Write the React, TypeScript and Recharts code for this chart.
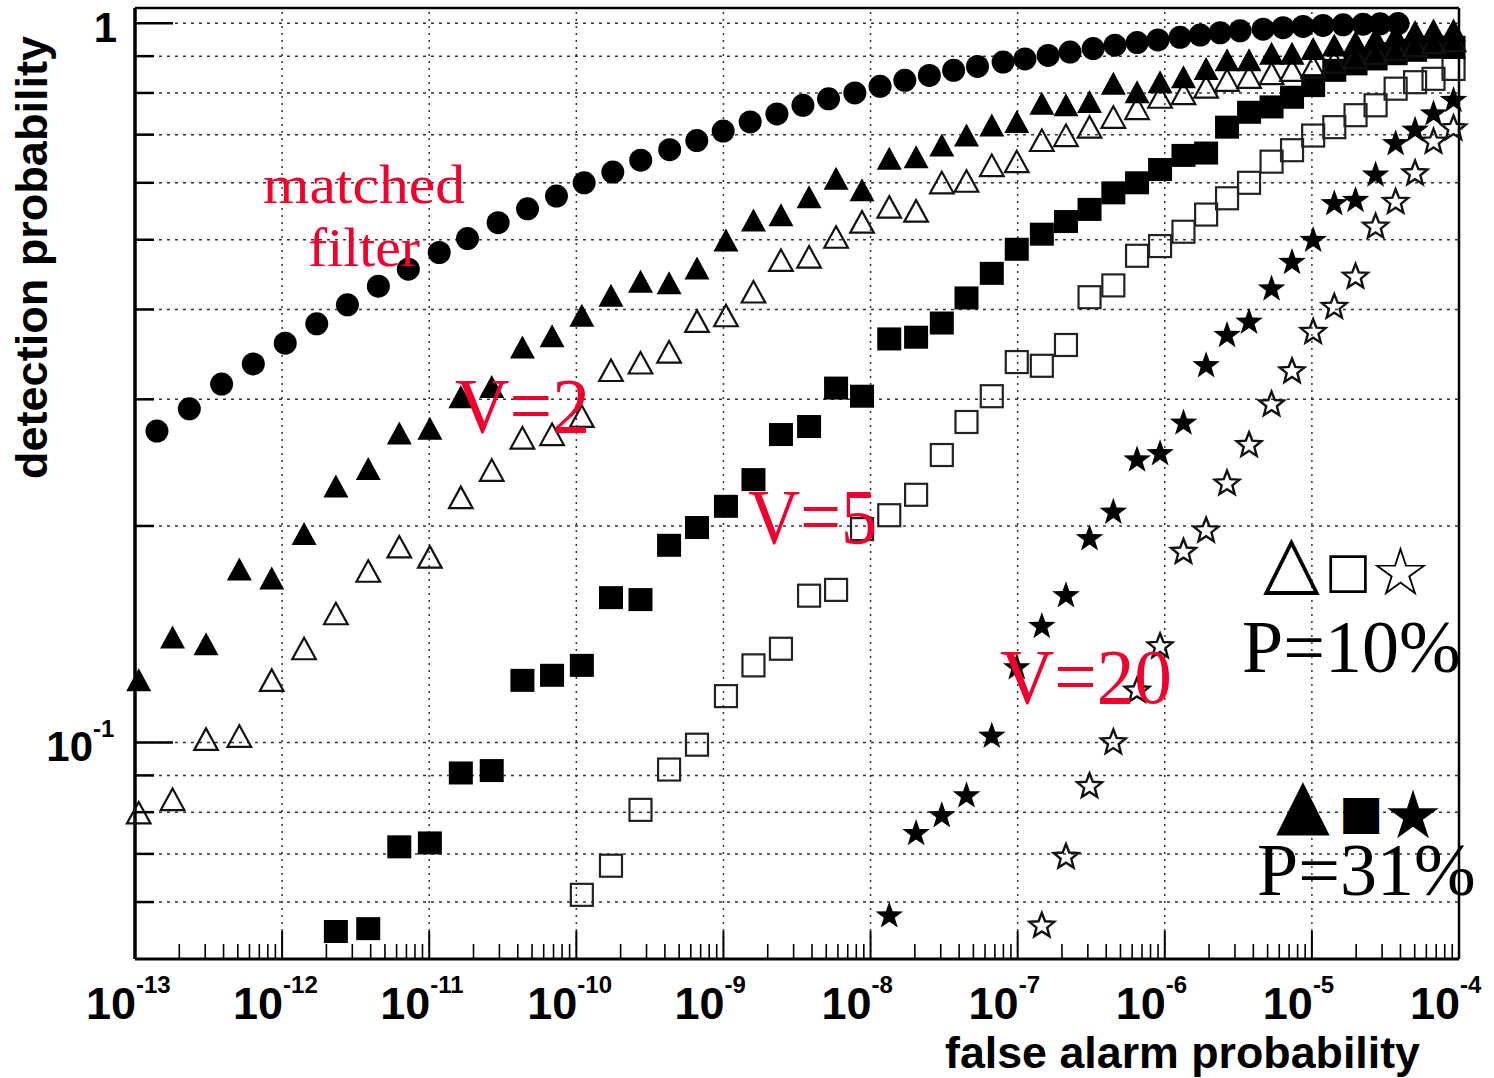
import React from 'react';
import { ScatterChart, Scatter, XAxis, YAxis, ReferenceLine } from 'recharts';

type Pt = [number, number];

// ---------- axis definitions ----------
const xDecades = [1e-13, 1e-12, 1e-11, 1e-10, 1e-9, 1e-8, 1e-7, 1e-6, 1e-5, 1e-4];
const xDecadeLabels = ['-13', '-12', '-11', '-10', '-9', '-8', '-7', '-6', '-5', '-4'];
const xMinorSteps = [2, 3, 4, 5, 6, 7, 8, 9];
const xGridDecades = [1e-12, 1e-11, 1e-10, 1e-9, 1e-8, 1e-7, 1e-6, 1e-5];
const yMajorTicks = [0.1, 1];
const yMinorTicks = [0.06, 0.07, 0.08, 0.09, 0.2, 0.3, 0.4, 0.5, 0.6, 0.7, 0.8, 0.9];
const xDomain: [number, number] = [1e-13, 1e-4];
const yDomain: [number, number] = [0.05, 1.05];

// ---------- series (false alarm probability, detection probability) ----------
const matchedFilter: Pt[] = [
  [1.41e-13, 0.271], [2.34e-13, 0.291], [3.88e-13, 0.315], [6.37e-13, 0.336], [1.05e-12, 0.359],
  [1.72e-12, 0.382], [2.78e-12, 0.406], [4.51e-12, 0.431], [7.21e-12, 0.455], [1.17e-11, 0.48],
  [1.82e-11, 0.502], [2.94e-11, 0.528], [4.66e-11, 0.552], [7.33e-11, 0.575], [1.13e-10, 0.6],
  [1.77e-10, 0.621], [2.74e-10, 0.645], [4.31e-10, 0.667], [6.59e-10, 0.687], [9.96e-10, 0.708],
  [1.52e-9, 0.729], [2.31e-9, 0.748], [3.47e-9, 0.769], [5.18e-9, 0.785], [7.82e-9, 0.8],
  [1.16e-8, 0.817], [1.71e-8, 0.833], [2.51e-8, 0.846], [3.67e-8, 0.86], [5.33e-8, 0.871],
  [7.96e-8, 0.883], [1.12e-7, 0.892], [1.61e-7, 0.902], [2.27e-7, 0.912], [3.26e-7, 0.922],
  [4.59e-7, 0.932], [6.49e-7, 0.94], [8.99e-7, 0.948], [1.27e-6, 0.956], [1.74e-6, 0.963],
  [2.38e-6, 0.97], [3.25e-6, 0.976], [4.66e-6, 0.981], [6.37e-6, 0.986], [8.71e-6, 0.99],
  [1.19e-5, 0.993], [1.63e-5, 0.995], [2.23e-5, 0.997], [2.91e-5, 0.998], [3.85e-5, 0.999],
];

const v2p31: Pt[] = [
  [1.06e-13, 0.122], [1.8e-13, 0.14], [3.04e-13, 0.137], [5.12e-13, 0.174], [8.5e-13, 0.169],
  [1.41e-12, 0.195], [2.32e-12, 0.227], [3.85e-12, 0.24], [6.26e-12, 0.269], [1.01e-11, 0.273],
  [1.64e-11, 0.302], [2.66e-11, 0.312], [4.3e-11, 0.354], [6.84e-11, 0.367], [1.09e-10, 0.392],
  [1.72e-10, 0.418], [2.73e-10, 0.437], [4.27e-10, 0.435], [6.61e-10, 0.456], [1.04e-9, 0.499],
  [1.6e-9, 0.532], [2.46e-9, 0.541], [3.82e-9, 0.573], [5.83e-9, 0.608], [8.75e-9, 0.586],
  [1.34e-8, 0.648], [2.04e-8, 0.651], [3.05e-8, 0.676], [4.49e-8, 0.698], [6.67e-8, 0.721],
  [9.86e-8, 0.729], [1.46e-7, 0.773], [2.13e-7, 0.769], [3.08e-7, 0.777], [4.47e-7, 0.824],
  [6.48e-7, 0.802], [9.29e-7, 0.828], [1.34e-6, 0.841], [1.91e-6, 0.864], [2.65e-6, 0.888],
  [3.74e-6, 0.888], [5.32e-6, 0.907], [7.33e-6, 0.907], [1.02e-5, 0.921], [1.42e-5, 0.931],
  [1.98e-5, 0.94], [2.71e-5, 0.952], [3.71e-5, 0.961], [5.03e-5, 0.972], [6.71e-5, 0.977],
  [9.18e-5, 0.977],
];

const v2p10: Pt[] = [
  [1.06e-13, 0.0798], [1.8e-13, 0.0833], [3.04e-13, 0.101], [5.12e-13, 0.102], [8.5e-13, 0.122],
  [1.41e-12, 0.135], [2.32e-12, 0.151], [3.85e-12, 0.173], [6.26e-12, 0.187], [1.01e-11, 0.181],
  [1.64e-11, 0.219], [2.66e-11, 0.239], [4.3e-11, 0.265], [6.84e-11, 0.268], [1.09e-10, 0.284],
  [1.72e-10, 0.329], [2.73e-10, 0.337], [4.27e-10, 0.349], [6.61e-10, 0.385], [1.04e-9, 0.392],
  [1.6e-9, 0.423], [2.46e-9, 0.468], [3.82e-9, 0.473], [5.83e-9, 0.504], [8.75e-9, 0.529],
  [1.34e-8, 0.555], [2.04e-8, 0.548], [3.05e-8, 0.6], [4.49e-8, 0.603], [6.67e-8, 0.634],
  [9.86e-8, 0.642], [1.46e-7, 0.687], [2.13e-7, 0.698], [3.08e-7, 0.717], [4.47e-7, 0.74],
  [6.48e-7, 0.761], [9.29e-7, 0.789], [1.34e-6, 0.798], [1.91e-6, 0.815], [2.65e-6, 0.833],
  [3.74e-6, 0.841], [5.32e-6, 0.851], [7.33e-6, 0.86], [1.02e-5, 0.869], [1.42e-5, 0.883],
  [1.98e-5, 0.896], [2.71e-5, 0.908], [3.71e-5, 0.919], [5.03e-5, 0.931], [6.71e-5, 0.94],
  [9.18e-5, 0.946],
];

const v5p31: Pt[] = [
  [2.32e-12, 0.0546], [3.85e-12, 0.0551], [6.26e-12, 0.0716], [1.01e-11, 0.0725], [1.64e-11, 0.0907],
  [2.66e-11, 0.0914], [4.3e-11, 0.122], [6.84e-11, 0.124], [1.09e-10, 0.128], [1.72e-10, 0.159],
  [2.73e-10, 0.158], [4.27e-10, 0.188], [6.61e-10, 0.199], [1.04e-9, 0.213], [1.6e-9, 0.232],
  [2.46e-9, 0.268], [3.82e-9, 0.275], [5.83e-9, 0.311], [8.75e-9, 0.303], [1.34e-8, 0.364],
  [2.04e-8, 0.366], [3.05e-8, 0.383], [4.49e-8, 0.415], [6.67e-8, 0.449], [9.86e-8, 0.485],
  [1.46e-7, 0.509], [2.13e-7, 0.53], [3.08e-7, 0.551], [4.47e-7, 0.581], [6.48e-7, 0.6],
  [9.29e-7, 0.626], [1.34e-6, 0.655], [1.91e-6, 0.66], [2.65e-6, 0.717], [3.74e-6, 0.752],
  [5.32e-6, 0.765], [7.33e-6, 0.789], [1.02e-5, 0.819], [1.42e-5, 0.86], [1.98e-5, 0.878],
  [2.71e-5, 0.892], [3.71e-5, 0.907], [5.03e-5, 0.917], [6.71e-5, 0.926], [9.18e-5, 0.926],
];

const v5p10: Pt[] = [
  [1.09e-10, 0.0614], [1.72e-10, 0.0674], [2.73e-10, 0.0806], [4.27e-10, 0.0917], [6.61e-10, 0.0993],
  [1.04e-9, 0.116], [1.6e-9, 0.128], [2.46e-9, 0.135], [3.82e-9, 0.16], [5.83e-9, 0.163],
  [8.75e-9, 0.198], [1.34e-8, 0.207], [2.04e-8, 0.221], [3.05e-8, 0.251], [4.49e-8, 0.279],
  [6.67e-8, 0.303], [9.86e-8, 0.338], [1.46e-7, 0.334], [2.13e-7, 0.357], [3.08e-7, 0.416],
  [4.47e-7, 0.432], [6.48e-7, 0.475], [9.29e-7, 0.49], [1.34e-6, 0.513], [1.91e-6, 0.542],
  [2.65e-6, 0.571], [3.74e-6, 0.6], [5.32e-6, 0.642], [7.33e-6, 0.666], [1.02e-5, 0.698],
  [1.42e-5, 0.717], [1.98e-5, 0.745], [2.71e-5, 0.769], [3.71e-5, 0.811], [5.03e-5, 0.828],
  [6.71e-5, 0.837], [9.18e-5, 0.864],
];

const v20p31: Pt[] = [
  [1.34e-8, 0.0574], [2.04e-8, 0.0747], [3.05e-8, 0.0791], [4.49e-8, 0.0843], [6.67e-8, 0.102],
  [9.86e-8, 0.127], [1.46e-7, 0.145], [2.13e-7, 0.16], [3.08e-7, 0.192], [4.47e-7, 0.209],
  [6.48e-7, 0.247], [9.29e-7, 0.252], [1.34e-6, 0.278], [1.91e-6, 0.334], [2.65e-6, 0.368],
  [3.74e-6, 0.384], [5.32e-6, 0.427], [7.33e-6, 0.465], [1.02e-5, 0.499], [1.42e-5, 0.561],
  [1.98e-5, 0.567], [2.71e-5, 0.615], [3.71e-5, 0.68], [5.03e-5, 0.71], [6.71e-5, 0.748],
  [9.18e-5, 0.781],
];

const v20p10: Pt[] = [
  [1.46e-7, 0.0556], [2.13e-7, 0.0693], [3.08e-7, 0.0869], [4.47e-7, 0.1], [6.48e-7, 0.118],
  [9.29e-7, 0.136], [1.34e-6, 0.184], [1.91e-6, 0.197], [2.65e-6, 0.229], [3.74e-6, 0.259],
  [5.32e-6, 0.295], [7.33e-6, 0.328], [1.02e-5, 0.372], [1.42e-5, 0.403], [1.98e-5, 0.444],
  [2.71e-5, 0.521], [3.71e-5, 0.564], [5.03e-5, 0.618], [6.71e-5, 0.684], [9.18e-5, 0.714],
];

// ---------- derived tables for the library ----------
const toData = (pts: Pt[]) => pts.map(([x, y]) => ({ x, y }));
const xTicks = [
  ...xDecades,
  ...xDecades.slice(0, -1).flatMap((d) => xMinorSteps.map((k) => k * d)),
].sort((a, b) => a - b);
const yTicks = [...yMinorTicks, ...yMajorTicks].sort((a, b) => a - b);

// ---------- styling constants ----------
const W = 1494;
const H = 1078;
const PLOT_LEFT = 135;
const PLOT_BOTTOM = 959;
const SANS = '"Liberation Sans", Arial, Helvetica, sans-serif';
const SERIF = '"Liberation Serif", "Times New Roman", serif';
const SYM = '"DejaVu Sans", sans-serif';
const RED = '#f0002c';
const INK = '#000';
const GRID = '#333';

// ---------- markers ----------
const starPts = (cx: number, cy: number, R: number, r: number) => {
  const p: string[] = [];
  for (let i = 0; i < 10; i++) {
    const a = (-90 + i * 36) * (Math.PI / 180);
    const rad = i % 2 === 0 ? R : r;
    p.push(`${cx + rad * Math.cos(a)},${cy + rad * Math.sin(a)}`);
  }
  return p.join(' ');
};

const CircleM = (p: any) => <circle cx={p.cx} cy={p.cy} r={11.5} fill={INK} />;
const TriFilled = (p: any) => (
  <polygon points={`${p.cx},${p.cy - 12} ${p.cx - 12.5},${p.cy + 11} ${p.cx + 12.5},${p.cy + 11}`} fill={INK} />
);
const TriOpen = (p: any) => (
  <polygon
    points={`${p.cx},${p.cy - 11} ${p.cx - 11.8},${p.cy + 10.5} ${p.cx + 11.8},${p.cy + 10.5}`}
    fill="none"
    stroke="#111"
    strokeWidth={2.2}
  />
);
const SqFilled = (p: any) => <rect x={p.cx - 12} y={p.cy - 11.5} width={24} height={23} fill={INK} />;
const SqOpen = (p: any) => (
  <rect x={p.cx - 11} y={p.cy - 11} width={22} height={22} fill="none" stroke="#222" strokeWidth={2.2} />
);
const StarFilled = (p: any) => <polygon points={starPts(p.cx, p.cy, 14.5, 5.8)} fill={INK} />;
const StarOpen = (p: any) => (
  <polygon points={starPts(p.cx, p.cy, 13, 5.6)} fill="none" stroke="#111" strokeWidth={2.4} />
);

// ---------- ticks ----------
const XTick = (props: any) => {
  const { x, payload } = props;
  const v = payload.value;
  const idx = xDecades.indexOf(v);
  if (idx >= 0) {
    return (
      <g>
        <line x1={x} x2={x} y1={PLOT_BOTTOM} y2={PLOT_BOTTOM - 28} stroke={INK} strokeWidth={2} />
        <text x={x + 1} y={1019} textAnchor="end" fontSize={45} fontWeight="bold" fontFamily={SANS} fill={INK}>
          10
        </text>
        <text x={x + 1} y={993} textAnchor="start" fontSize={24} fontWeight="bold" fontFamily={SANS} fill={INK}>
          {xDecadeLabels[idx]}
        </text>
      </g>
    );
  }
  return <line x1={x} x2={x} y1={PLOT_BOTTOM} y2={PLOT_BOTTOM - 15} stroke={INK} strokeWidth={1.6} />;
};

const YTick = (props: any) => {
  const { y, payload } = props;
  const v = payload.value;
  const major = yMajorTicks.indexOf(v) >= 0;
  return (
    <g>
      <line x1={PLOT_LEFT} x2={PLOT_LEFT + (major ? 38 : 19)} y1={y} y2={y} stroke={INK} strokeWidth={2.5} />
      {v === 1 && (
        <text x={117} y={y + 19} textAnchor="end" fontSize={42} fontWeight="bold" fontFamily={SANS} fill={INK}>
          1
        </text>
      )}
      {v === 0.1 && (
        <g>
          <text x={93} y={y + 19} textAnchor="end" fontSize={42} fontWeight="bold" fontFamily={SANS} fill={INK}>
            10
          </text>
          <text x={93} y={y - 5} textAnchor="start" fontSize={24} fontWeight="bold" fontFamily={SANS} fill={INK}>
            -1
          </text>
        </g>
      )}
    </g>
  );
};

export default function App() {
  return (
    <div style={{ position: 'absolute', left: 0, top: 0, width: W, height: H, background: '#fff' }}>
      <ScatterChart width={W} height={H} margin={{ top: 8, right: 35, bottom: 0, left: 0 }}>
        <XAxis
          type="number"
          dataKey="x"
          scale="log"
          domain={xDomain}
          ticks={xTicks}
          interval={0}
          tick={<XTick />}
          tickLine={false}
          axisLine={{ stroke: INK, strokeWidth: 3 }}
          height={119}
        />
        <YAxis
          type="number"
          dataKey="y"
          scale="log"
          domain={yDomain}
          ticks={yTicks}
          interval={0}
          tick={<YTick />}
          tickLine={false}
          axisLine={{ stroke: INK, strokeWidth: 3.5 }}
          width={135}
        />
        {yTicks.map((v) => (
          <ReferenceLine key={`hy${v}`} y={v} stroke={GRID} strokeWidth={1.5} strokeDasharray="3 5" />
        ))}
        {xGridDecades.map((v) => (
          <ReferenceLine key={`vx${v}`} x={v} stroke={GRID} strokeWidth={1.5} strokeDasharray="2 5" />
        ))}
        <ReferenceLine y={yDomain[1]} stroke={INK} strokeWidth={2.5} />
        <ReferenceLine x={xDomain[1]} stroke={INK} strokeWidth={2.5} />

        <Scatter data={toData(v20p10)} shape={StarOpen} isAnimationActive={false} />
        <Scatter data={toData(v20p31)} shape={StarFilled} isAnimationActive={false} />
        <Scatter data={toData(v5p10)} shape={SqOpen} isAnimationActive={false} />
        <Scatter data={toData(v5p31)} shape={SqFilled} isAnimationActive={false} />
        <Scatter data={toData(v2p10)} shape={TriOpen} isAnimationActive={false} />
        <Scatter data={toData(v2p31)} shape={TriFilled} isAnimationActive={false} />
        <Scatter data={toData(matchedFilter)} shape={CircleM} isAnimationActive={false} />
      </ScatterChart>

      <svg width={W} height={H} style={{ position: 'absolute', left: 0, top: 0, pointerEvents: 'none' }}>
        {/* axis titles */}
        <text
          x={945}
          y={1068}
          fontSize={44}
          fontWeight="bold"
          fontFamily={SANS}
          fill={INK}
          textLength={475}
          lengthAdjust="spacingAndGlyphs"
        >
          false alarm probability
        </text>
        <text
          transform="translate(47,479) rotate(-90)"
          fontSize={45}
          fontWeight="bold"
          fontFamily={SANS}
          fill={INK}
          textLength={443}
          lengthAdjust="spacingAndGlyphs"
        >
          detection probability
        </text>

        {/* red annotations */}
        <text x={263} y={203} fontSize={54} fontFamily={SERIF} fill={RED} textLength={202} lengthAdjust="spacingAndGlyphs">
          matched
        </text>
        <text x={308} y={266} fontSize={54} fontFamily={SERIF} fill={RED} textLength={112} lengthAdjust="spacingAndGlyphs">
          filter
        </text>
        <text x={455} y={432} fontSize={78} fontFamily={SERIF} fill={RED} textLength={135} lengthAdjust="spacingAndGlyphs">
          V=2
        </text>
        <text x={748} y={543} fontSize={78} fontFamily={SERIF} fill={RED} textLength={129} lengthAdjust="spacingAndGlyphs">
          V=5
        </text>
        <text x={1000} y={703} fontSize={78} fontFamily={SERIF} fill={RED} textLength={172} lengthAdjust="spacingAndGlyphs">
          V=20
        </text>

        {/* symbol legends: symbols and caption in one text block each */}
        <text fill={INK}>
          <tspan x={1263} y={586} fontSize={74} fontFamily={SYM}>△</tspan>
          <tspan x={1325} y={587} fontSize={49} fontFamily={SYM}>□</tspan>
          <tspan x={1370} y={595} fontSize={68} fontFamily={SYM}>☆</tspan>
          <tspan x={1242} y={672} fontSize={74} fontFamily={SERIF}>P=10%</tspan>
        </text>
        <text fill={INK}>
          <tspan x={1276} y={827} fontSize={70} fontFamily={SYM}>▲</tspan>
          <tspan x={1339} y={828} fontSize={47} fontFamily={SYM}>■</tspan>
          <tspan x={1383} y={838} fontSize={67} fontFamily={SYM}>★</tspan>
          <tspan x={1257} y={895} fontSize={74} fontFamily={SERIF}>P=31%</tspan>
        </text>
      </svg>
    </div>
  );
}
